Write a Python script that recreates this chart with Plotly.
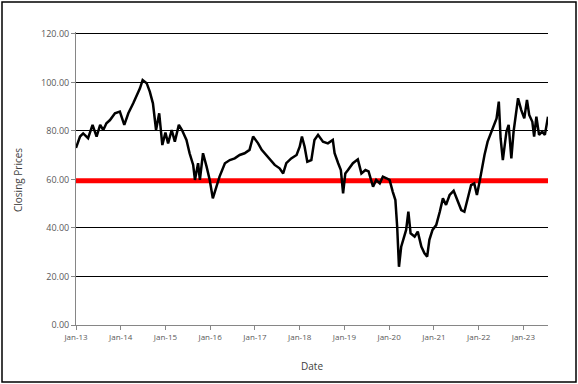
import pandas as pd
import plotly.graph_objects as go

year_pos = [
    2013.00, 2013.05, 2013.09, 2013.16, 2013.22, 2013.27, 2013.37, 2013.46, 2013.54, 2013.61,
    2013.68, 2013.76, 2013.87, 2013.98, 2014.08, 2014.17, 2014.28, 2014.35, 2014.43, 2014.49,
    2014.58, 2014.65, 2014.72, 2014.79, 2014.86, 2014.93, 2015.00, 2015.06, 2015.14, 2015.21,
    2015.30, 2015.37, 2015.47, 2015.54, 2015.62, 2015.66, 2015.73, 2015.77, 2015.84, 2015.92,
    2015.99, 2016.06, 2016.14, 2016.21, 2016.33, 2016.44, 2016.55, 2016.66, 2016.77, 2016.88,
    2016.96, 2017.07, 2017.15, 2017.29, 2017.44, 2017.55, 2017.63, 2017.70, 2017.81, 2017.93,
    2018.00, 2018.05, 2018.11, 2018.17, 2018.26, 2018.33, 2018.41, 2018.52, 2018.63, 2018.74,
    2018.78, 2018.86, 2018.92, 2018.97, 2019.02, 2019.08, 2019.19, 2019.30, 2019.38, 2019.47,
    2019.54, 2019.64, 2019.71, 2019.79, 2019.86, 2019.94, 2020.01, 2020.08, 2020.14, 2020.18,
    2020.22, 2020.27, 2020.33, 2020.38, 2020.43, 2020.48, 2020.57, 2020.64, 2020.72, 2020.79,
    2020.85, 2020.90, 2020.97, 2021.05, 2021.13, 2021.20, 2021.27, 2021.35, 2021.44, 2021.53,
    2021.61, 2021.68, 2021.76, 2021.83, 2021.90, 2021.96, 2022.02, 2022.08, 2022.13, 2022.20,
    2022.28, 2022.35, 2022.40, 2022.45, 2022.49, 2022.54, 2022.62, 2022.67, 2022.73, 2022.78,
    2022.82, 2022.88, 2022.95, 2023.02, 2023.08, 2023.13, 2023.20, 2023.24, 2023.29, 2023.35,
    2023.42, 2023.48, 2023.55,
]
closing_prices = [
    73.0, 76.0, 77.7, 79.0, 78.0, 77.0, 82.5, 77.7, 82.5, 80.4,
    83.2, 84.5, 87.3, 88.0, 82.5, 87.3, 91.4, 94.2, 97.6, 101.0,
    99.7, 96.2, 91.4, 80.4, 87.3, 74.2, 79.3, 74.9, 80.4, 75.6,
    82.5, 80.4, 76.3, 70.8, 66.0, 59.8, 66.7, 59.8, 70.8, 65.3,
    59.8, 52.2, 57.0, 61.2, 66.7, 68.0, 68.7, 70.1, 70.8, 72.2,
    77.7, 74.9, 72.2, 69.4, 66.0, 64.6, 62.5, 66.7, 68.7, 70.1,
    73.5, 77.7, 73.5, 67.3, 68.0, 76.3, 78.4, 75.6, 74.9, 76.3,
    70.8, 66.7, 63.9, 54.3, 62.5, 63.9, 66.7, 68.3, 62.5, 63.9,
    63.3, 57.0, 59.8, 58.4, 61.2, 60.5, 59.8, 55.0, 51.5, 40.5,
    24.0, 32.3, 36.4, 39.2, 46.7, 37.8, 36.4, 38.5, 32.3, 29.6,
    28.2, 35.1, 39.2, 41.2, 46.7, 52.2, 49.5, 53.6, 55.3, 51.5,
    47.4, 46.7, 52.2, 57.7, 58.4, 53.6, 59.1, 66.0, 70.1, 75.6,
    79.7, 82.5, 85.2, 92.1, 77.0, 68.0, 79.7, 82.5, 68.7, 79.7,
    85.2, 93.5, 88.7, 85.2, 92.8, 86.6, 83.8, 77.7, 85.9, 78.4,
    79.7, 78.4, 85.9,
]
threshold = 59.5
y_ticks = [0, 20, 40, 60, 80, 100, 120]


def to_date(y):
    yr = int(y)
    return pd.Timestamp(yr, 1, 1) + pd.Timedelta(days=(y - yr) * 365.25)


dates = [to_date(v) for v in year_pos]
start, end = dates[0], dates[-1]

fig = go.Figure()
fig.add_trace(go.Scatter(x=[start, end], y=[threshold, threshold], mode="lines",
                         line=dict(color="#FF0000", width=5), showlegend=False,
                         hoverinfo="skip"))
fig.add_trace(go.Scatter(x=dates, y=closing_prices, mode="lines",
                         line=dict(color="#000000", width=2.5), showlegend=False))

L, R, T, B = 76, 30, 32, 59
W, H = 578, 384
pw, ph = W - L - R, H - T - B

fig.update_layout(
    width=W, height=H,
    margin=dict(l=L, r=R, t=T, b=B),
    paper_bgcolor="white", plot_bgcolor="white",
    font=dict(family="Open Sans, Liberation Sans, sans-serif", color="#595959"),
    xaxis=dict(
        type="date", range=[start, end], tick0="2013-01-01", dtick="M12",
        tickformat="%b-%y", showgrid=False, zeroline=False,
        showline=True, linecolor="#868686", linewidth=1,
        ticks="outside", ticklen=4, tickcolor="#868686",
        tickfont=dict(size=8, color="#595959"),
    ),
    yaxis=dict(
        range=[0, 120.8], tickvals=y_ticks, tickformat=".2f",
        showgrid=True, gridcolor="#000000", gridwidth=1, zeroline=False,
        showline=True, linecolor="#868686", linewidth=1,
        ticks="outside", ticklen=4, tickcolor="#868686",
        tickfont=dict(size=9, color="#595959"),
    ),
    annotations=[
        dict(text="Closing Prices", xref="paper", yref="paper",
             x=(18 - L) / pw, y=(T + ph - 180) / ph, textangle=-90, showarrow=False,
             font=dict(size=10, color="#404040"), xanchor="center", yanchor="middle"),
        dict(text="Date", xref="paper", yref="paper",
             x=0.5, y=(T + ph - 366) / ph, showarrow=False,
             font=dict(size=10, color="#404040"), xanchor="center", yanchor="middle"),
    ],
    shapes=[
        dict(type="rect", xref="paper", yref="paper",
             x0=(2 - L) / pw, x1=(576 - L) / pw,
             y0=(T + ph - 382) / ph, y1=(T + ph - 2) / ph,
             line=dict(color="#000000", width=1.5), fillcolor="rgba(0,0,0,0)",
             layer="below"),
    ],
)

fig.write_html("out.html", config={"displayModeBar": False},
               post_script="document.body.style.margin='0';document.body.style.overflow='hidden';")
